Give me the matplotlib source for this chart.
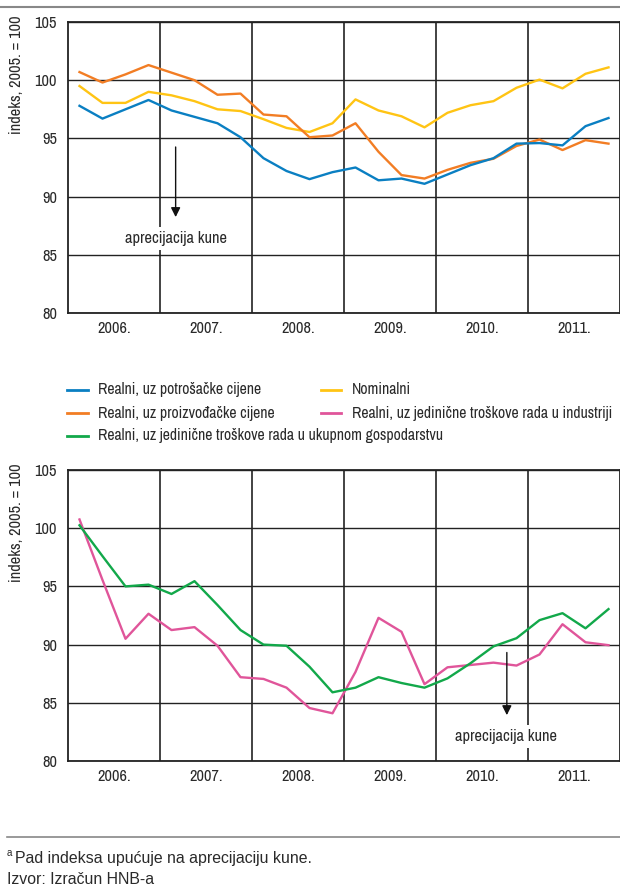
import matplotlib
matplotlib.use("Agg")
import matplotlib.pyplot as plt
import numpy as np
from matplotlib.lines import Line2D

plt.rcParams['font.family'] = ['Archivo Narrow', 'DejaVu Sans']

years = [2006, 2007, 2008, 2009, 2010, 2011]
year_labels = ['2006.', '2007.', '2008.', '2009.', '2010.', '2011.']
quarters = [y + (q + 0.5) / 4 for y in years for q in range(4)]

cpi = [97.8, 96.7, 97.5, 98.3, 97.4, 96.85, 96.3, 95.1, 93.3, 92.2, 91.5, 92.1,
       92.5, 91.4, 91.55, 91.1, 91.9, 92.7, 93.3, 94.55, 94.6, 94.4, 96.05, 96.75]
ppi = [100.7, 99.8, 100.5, 101.3, 100.65, 100.0, 98.75, 98.85, 97.05, 96.9, 95.1, 95.25,
       96.3, 93.85, 91.85, 91.55, 92.3, 92.9, 93.25, 94.35, 94.9, 94.0, 94.85, 94.55]
nominal = [99.5, 98.05, 98.05, 99.0, 98.7, 98.2, 97.5, 97.35, 96.65, 95.9, 95.55, 96.3,
           98.35, 97.4, 96.9, 95.95, 97.2, 97.85, 98.2, 99.35, 100.05, 99.3, 100.55, 101.1]
ulc_total = [100.25, 97.6, 95.0, 95.15, 94.35, 95.45, 93.4, 91.25, 90.0, 89.9, 88.1, 85.9,
             86.3, 87.2, 86.7, 86.3, 87.1, 88.4, 89.85, 90.55, 92.1, 92.7, 91.4, 93.05]
ulc_ind = [100.75, 95.55, 90.5, 92.65, 91.25, 91.5, 89.9, 87.2, 87.05, 86.3, 84.55, 84.1,
           87.65, 92.3, 91.1, 86.6, 88.05, 88.25, 88.45, 88.2, 89.15, 91.75, 90.2, 89.95]

yticks = [80, 85, 90, 95, 100, 105]

C_BLUE = '#0a7fc2'
C_ORANGE = '#f27d24'
C_YELLOW = '#ffc414'
C_PINK = '#e0559a'
C_GREEN = '#12a84a'
TXT = '#2a2a2a'
FS = 11.8
FS_LEG = 11.3

W, H = 620, 889
fig = plt.figure(figsize=(W / 100, H / 100), dpi=100)

def make_ax(top, bottom, left=68, right=620):
    ax = fig.add_axes([left / W, 1 - bottom / H, (right - left) / W, (bottom - top) / H])
    ax.set_xlim(2006, 2012)
    ax.set_ylim(80, 105)
    ax.set_yticks(yticks)
    ax.set_yticklabels([str(t) for t in yticks])
    ax.set_xticks([y + 0.5 for y in years])
    ax.set_xticklabels(year_labels)
    ax.set_xticks(years[1:], minor=True)
    ax.tick_params(axis='both', which='both', length=0, labelsize=FS, colors=TXT)
    ax.tick_params(axis='y', pad=8)
    ax.tick_params(axis='x', pad=6)
    ax.grid(axis='y', which='major', color='#222222', lw=1.0)
    ax.grid(axis='x', which='minor', color='#222222', lw=1.2)
    ax.set_axisbelow(True)
    for s in ax.spines.values():
        s.set_color('#222222')
        s.set_linewidth(1.3)
    return ax

ax1 = make_ax(22, 313)
ax1.plot(quarters, nominal, color=C_YELLOW, lw=1.7)
ax1.plot(quarters, ppi, color=C_ORANGE, lw=1.7)
ax1.plot(quarters, cpi, color=C_BLUE, lw=1.7)
ax1.annotate('', xy=(2007.17, 88.0), xytext=(2007.17, 94.5),
             arrowprops=dict(arrowstyle='-|>', color='#111111', lw=1.0, mutation_scale=14))
ax1.text(2007.17, 86.4, 'aprecijacija kune', ha='center', va='center', fontsize=FS,
         color=TXT, bbox=dict(facecolor='white', edgecolor='none', pad=3))

ax2 = make_ax(470, 761)
ax2.plot(quarters, ulc_ind, color=C_PINK, lw=1.7)
ax2.plot(quarters, ulc_total, color=C_GREEN, lw=1.7)
ax2.annotate('', xy=(2010.77, 83.7), xytext=(2010.77, 89.56),
             arrowprops=dict(arrowstyle='-|>', color='#111111', lw=1.0, mutation_scale=14))
ax2.text(2010.76, 82.1, 'aprecijacija kune', ha='center', va='center', fontsize=FS,
         color=TXT, bbox=dict(facecolor='white', edgecolor='none', pad=3))

for yc in (75, 523):
    fig.text(17 / W, 1 - yc / H, 'indeks, 2005. = 100', rotation=90, ha='center', va='center',
             fontsize=FS, color=TXT)

# legend
colors = [C_BLUE, C_ORANGE, C_GREEN, C_YELLOW, C_PINK]
labels = ['Realni, uz potrošačke cijene', 'Realni, uz proizvođačke cijene',
          'Realni, uz jedinične troškove rada u ukupnom gospodarstvu',
          'Nominalni', 'Realni, uz jedinične troškove rada u industriji']
rows = [(390, 0, 0), (413, 1, 0), (436, 2, 0), (390, 3, 1), (413, 4, 1)]
for yy, idx, col in rows:
    x0, x1, xt = (67, 88, 98) if col == 0 else (321, 341, 352)
    fig.add_artist(Line2D([x0 / W, x1 / W], [1 - yy / H, 1 - yy / H],
                          color=colors[idx], lw=2))
    fig.text(xt / W, 1 - yy / H, labels[idx], ha='left', va='center',
             fontsize=FS_LEG, color=TXT)

# rules
fig.add_artist(Line2D([0, 1], [1 - 7 / H, 1 - 7 / H], color='#888888', lw=1.5))
fig.add_artist(Line2D([7 / W, 1], [1 - 837 / H, 1 - 837 / H], color='#888888', lw=1.2))

fig.text(7 / W, 1 - 856 / H, 'a', fontsize=7, family='Liberation Sans', color=TXT,
         ha='left', va='baseline')
fig.text(15 / W, 1 - 863 / H, 'Pad indeksa upućuje na aprecijaciju kune.', fontsize=11.4,
         family='Liberation Sans', color=TXT, ha='left', va='baseline')
fig.text(7 / W, 1 - 884 / H, 'Izvor: Izračun HNB-a', fontsize=11.4,
         family='Liberation Sans', color=TXT, ha='left', va='baseline')

fig.savefig('out.png', dpi=100)
